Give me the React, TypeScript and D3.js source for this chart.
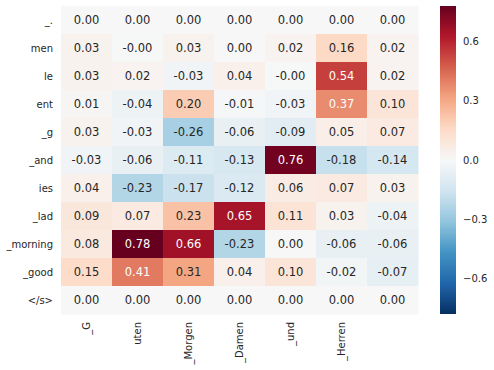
import React from 'react';
import * as d3 from 'd3';

const width = 494;
const height = 370;
const margin = {top: 6, left: 61};
const gridW = 357;
const gridH = 308;
const cbar = {x: 440, w: 16};
const textColor = '#262626';

const rowLabels = ['_.', 'men', 'le', 'ent', '_g', '_and', 'ies', '_lad', '_morning', '_good', '</s>'];
const colLabels = ['_G', 'uten', '_Morgen', '_Damen', '_und', '_Herren', ''];

// attention weights, one row per source token
const rowDot = [0.00, 0.00, 0.00, 0.00, 0.00, 0.00, 0.00];
const rowMen = [0.03, -0.004, 0.03, 0.00, 0.02, 0.16, 0.02];
const rowLe = [0.03, 0.02, -0.03, 0.04, -0.004, 0.54, 0.02];
const rowEnt = [0.01, -0.04, 0.20, -0.01, -0.03, 0.37, 0.10];
const rowG = [0.03, -0.03, -0.26, -0.06, -0.09, 0.05, 0.07];
const rowAnd = [-0.03, -0.06, -0.11, -0.13, 0.76, -0.18, -0.14];
const rowIes = [0.04, -0.23, -0.17, -0.12, 0.06, 0.07, 0.03];
const rowLad = [0.09, 0.07, 0.23, 0.65, 0.11, 0.03, -0.04];
const rowMorning = [0.08, 0.78, 0.66, -0.23, 0.00, -0.06, -0.06];
const rowGood = [0.15, 0.41, 0.31, 0.04, 0.10, -0.02, -0.07];
const rowEnd = [0.00, 0.00, 0.00, 0.00, 0.00, 0.00, 0.00];
const values = [rowDot, rowMen, rowLe, rowEnt, rowG, rowAnd, rowIes, rowLad, rowMorning, rowGood, rowEnd];

const cbarTicks = [-0.6, -0.3, 0.0, 0.3, 0.6];
const vmax = 0.78;

// matplotlib RdBu_r (colorbrewer stops, linear)
const rdbu = ['#053061', '#2166ac', '#4393c3', '#92c5de', '#d1e5f0', '#f7f7f7',
  '#fddbc7', '#f4a582', '#d6604d', '#b2182b', '#67001f'];
const color = d3.scaleLinear<string>()
  .domain(rdbu.map((_, i) => -vmax + (2 * vmax * i) / (rdbu.length - 1)))
  .range(rdbu)
  .interpolate(d3.interpolateRgb)
  .clamp(true);

const luminance = (c: string) => {
  const rgb = d3.rgb(c);
  const f = (v: number) => {
    const s = v / 255;
    return s <= 0.03928 ? s / 12.92 : Math.pow((s + 0.055) / 1.055, 2.4);
  };
  return 0.2126 * f(rgb.r) + 0.7152 * f(rgb.g) + 0.0722 * f(rgb.b);
};

const x = d3.scaleBand<number>().domain(d3.range(colLabels.length)).range([margin.left, margin.left + gridW]);
const y = d3.scaleBand<number>().domain(d3.range(rowLabels.length)).range([margin.top, margin.top + gridH]);
const cy = d3.scaleLinear().domain([-vmax, vmax]).range([margin.top + gridH, margin.top]);

const fmtCbar = d3.format('.1f');

export default function App() {
  const stops = d3.range(0, 1.0001, 0.05);
  return (
    <svg width={width} height={height} style={{position: 'absolute', left: 0, top: 0, fontFamily: 'DejaVu Sans, sans-serif'}}>
      <defs>
        <linearGradient id="cb" x1="0" y1="1" x2="0" y2="0">
          {stops.map(t => (
            <stop key={t} offset={t} stopColor={color(-vmax + 2 * vmax * t)} />
          ))}
        </linearGradient>
      </defs>
      <rect width={width} height={height} fill="#fff" />
      {values.map((row, i) => row.map((v, j) => {
        const c = color(v);
        return (
          <g key={`${i}-${j}`}>
            <rect x={x(j)} y={y(i)} width={x.bandwidth() + 0.5} height={y.bandwidth() + 0.5} fill={c} />
            <text x={x(j)! + x.bandwidth() / 2} y={y(i)! + y.bandwidth() / 2} dy="0.36em"
              textAnchor="middle" fontSize={11.5} fill={luminance(c) > 0.408 ? textColor : '#fff'}>
              {v.toFixed(2)}
            </text>
          </g>
        );
      }))}
      {rowLabels.map((l, i) => (
        <text key={l} x={margin.left - 8} y={y(i)! + y.bandwidth() / 2} dy="0.35em"
          textAnchor="end" fontSize={10} fill={textColor}>{l}</text>
      ))}
      {colLabels.map((l, j) => (
        <text key={j} transform={`translate(${x(j)! + x.bandwidth() / 2 + 3.5},${margin.top + gridH + 8}) rotate(-90)`}
          textAnchor="end" fontSize={10} fill={textColor}>{l}</text>
      ))}
      <rect x={cbar.x} y={margin.top} width={cbar.w} height={gridH} fill="url(#cb)" />
      {cbarTicks.map(t => (
        <text key={t} x={cbar.x + cbar.w + 7} y={cy(t)} dy="0.35em" fontSize={10} fill={textColor}>
          {fmtCbar(t)}
        </text>
      ))}
    </svg>
  );
}
